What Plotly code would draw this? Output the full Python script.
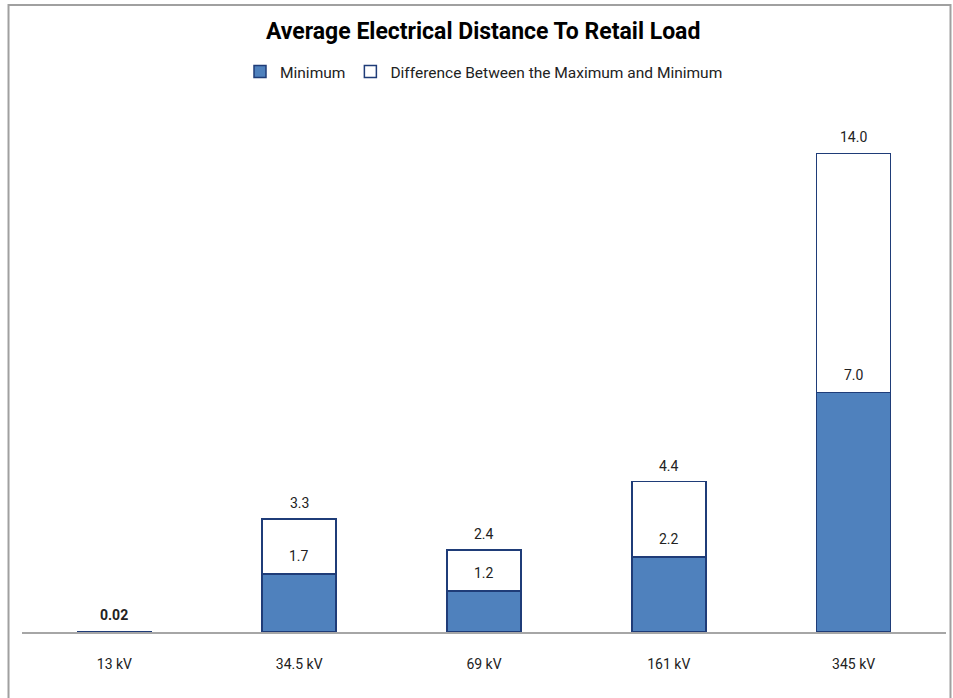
import plotly.graph_objects as go

# Voltage classes and average electrical distance values
categories = ["13 kV", "34.5 kV", "69 kV", "161 kV", "345 kV"]
minimum = [0.01, 1.7, 1.2, 2.2, 7.0]
maximum = [0.02, 3.3, 2.4, 4.4, 14.0]
difference = [round(mx - mn, 2) for mx, mn in zip(maximum, minimum)]

FONT = "Liberation Sans Narrow, Roboto, Arial, sans-serif"
BLUE = "#4F81BD"
EDGE = "#1F3C78"

fig = go.Figure()
fig.add_trace(go.Bar(
    x=categories, y=minimum, name="Minimum",
    marker=dict(color=BLUE, line=dict(color=EDGE, width=1.5)),
    hoverinfo="x+y",
))
fig.add_trace(go.Bar(
    x=categories, y=difference, name="Difference Between the Maximum and Minimum",
    marker=dict(color="white", line=dict(color=EDGE, width=1.5)),
    hoverinfo="x+y",
))

# Value labels: maximum above each bar, minimum just above the blue segment
annotations = []
for i, (cat, mn, mx) in enumerate(zip(categories, minimum, maximum)):
    annotations.append(dict(
        x=cat, y=mx, xref="x", yref="y", yanchor="bottom", yshift=6,
        text=("<b>%.2f</b>" % mx) if mx < 0.1 else "%.1f" % mx,
        showarrow=False, font=dict(size=14, color="#222222", family=FONT),
    ))
    if mx >= 0.1:
        annotations.append(dict(
            x=cat, y=mn, xref="x", yref="y", yanchor="bottom", yshift=8,
            text="%.1f" % mn, showarrow=False,
            font=dict(size=14, color="#222222", family=FONT),
        ))

fig.update_layout(
    width=953, height=698,
    barmode="stack", bargap=0.6,
    paper_bgcolor="white", plot_bgcolor="white",
    margin=dict(l=21.5, r=6.5, t=85, b=66),
    font=dict(family=FONT, size=14, color="#222222"),
    title=dict(
        text="<b>Average Electrical Distance To Retail Load</b>",
        x=0.507, xanchor="center", y=0.955, yanchor="middle",
        font=dict(size=23, color="black", family=FONT),
    ),
    legend=dict(
        orientation="h", x=0.5, xanchor="center", y=1.0 + (85 - 72) / 547,
        yanchor="middle", font=dict(size=15.5, family=FONT),
        traceorder="normal", itemwidth=30,
    ),
    xaxis=dict(
        showline=True, linecolor="#A6A6A6", linewidth=1.5,
        ticks="", showgrid=False, ticklabelstandoff=18,
        tickfont=dict(size=14, family=FONT),
    ),
    yaxis=dict(
        range=[0, 16], visible=False, showgrid=False, zeroline=False,
    ),
    annotations=annotations,
    shapes=[dict(
        type="rect", xref="paper", yref="paper",
        x0=(8 - 21.5) / 925, x1=(951 - 21.5) / 925,
        y0=-0.3, y1=(632 - 5) / 547,
        line=dict(color="#A0A0A0", width=2), fillcolor="rgba(0,0,0,0)",
        layer="below",
    )],
)

fig.write_html("out.html")
